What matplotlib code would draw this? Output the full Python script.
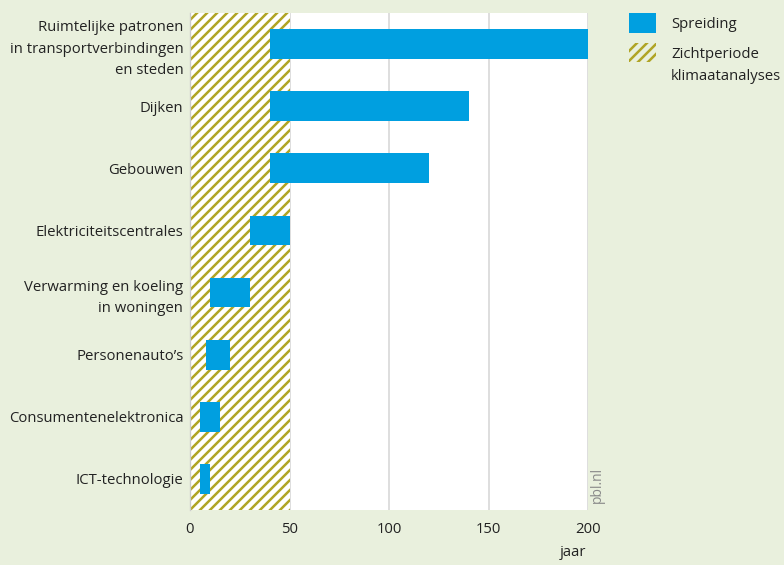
import matplotlib.pyplot as plt
from matplotlib.patches import Rectangle

plt.rcParams['font.family'] = ['Open Sans', 'DejaVu Sans']
plt.rcParams['hatch.linewidth'] = 1.5

# data
categories = [
    'Ruimtelijke patronen\nin transportverbindingen\nen steden',
    'Dijken',
    'Gebouwen',
    'Elektriciteitscentrales',
    'Verwarming en koeling\nin woningen',
    'Personenauto\u2019s',
    'Consumentenelektronica',
    'ICT-technologie',
]
spread_start = [40, 40, 40, 30, 10, 8, 5, 5]
spread_end = [200, 140, 120, 50, 30, 20, 15, 10]
zicht_start = 0
zicht_end = 50
xticks = [0, 50, 100, 150, 200]

bg = '#e9f0dd'
blue = '#009fe0'
olive = '#b0a526'
text_col = '#222222'
fs = 8.9

fig = plt.figure(figsize=(784 / 120, 565 / 120), dpi=120, facecolor=bg)
ax = fig.add_axes([190 / 784, 55 / 565, 398 / 784, 497 / 565])
ax.set_facecolor('white')

# hatched view period
ax.axvspan(zicht_start, zicht_end, facecolor='white', edgecolor=olive,
           hatch='////', linewidth=0, zorder=1)

ypos = list(range(len(categories)))
widths = [e - s for s, e in zip(spread_start, spread_end)]
ax.barh(ypos, widths, left=spread_start, height=0.48, color=blue, zorder=3)

ax.set_ylim(len(categories) - 0.5, -0.5)
ax.set_xlim(0, 200)
ax.set_yticks(ypos)
ax.set_yticklabels(categories, fontsize=fs, color=text_col, linespacing=1.6)
ax.set_xticks(xticks)
ax.set_xticklabels([str(t) for t in xticks], fontsize=fs, color=text_col)
ax.tick_params(length=0, pad=7)
ax.tick_params(axis='y', pad=4)

ax.grid(axis='x', color='#d8d8d8', linewidth=1.0, zorder=0)
ax.set_axisbelow(True)
for s in ['top', 'right', 'bottom']:
    ax.spines[s].set_visible(False)
ax.spines['left'].set_color('#cccccc')
ax.spines['left'].set_linewidth(0.8)

fig.text(586 / 784, 1 - 552 / 565, 'jaar', ha='right', va='center',
         fontsize=fs, color=text_col)
fig.text(597 / 784, 1 - 485 / 565, 'pbl.nl', ha='center', va='center',
         rotation=90, fontsize=8.3, color='#8a8a8a')

# legend, drawn by hand so the hatch patch sits by the first text line
W, H = 784, 565
fig.patches.append(Rectangle((629 / W, 1 - 33 / H), 27 / W, 20 / H,
                             transform=fig.transFigure, facecolor=blue,
                             linewidth=0))
fig.patches.append(Rectangle((629 / W, 1 - 62 / H), 27 / W, 19 / H,
                             transform=fig.transFigure, facecolor=bg,
                             edgecolor=olive, hatch='////', linewidth=0))
fig.text(671 / W, 1 - 24 / H, 'Spreiding', ha='left', va='center',
         fontsize=fs, color=text_col)
fig.text(671 / W, 1 - 47 / H, 'Zichtperiode\nklimaatanalyses', ha='left',
         va='top', fontsize=fs, color=text_col, linespacing=1.6)

fig.savefig('out.png', dpi=120, facecolor=bg)
